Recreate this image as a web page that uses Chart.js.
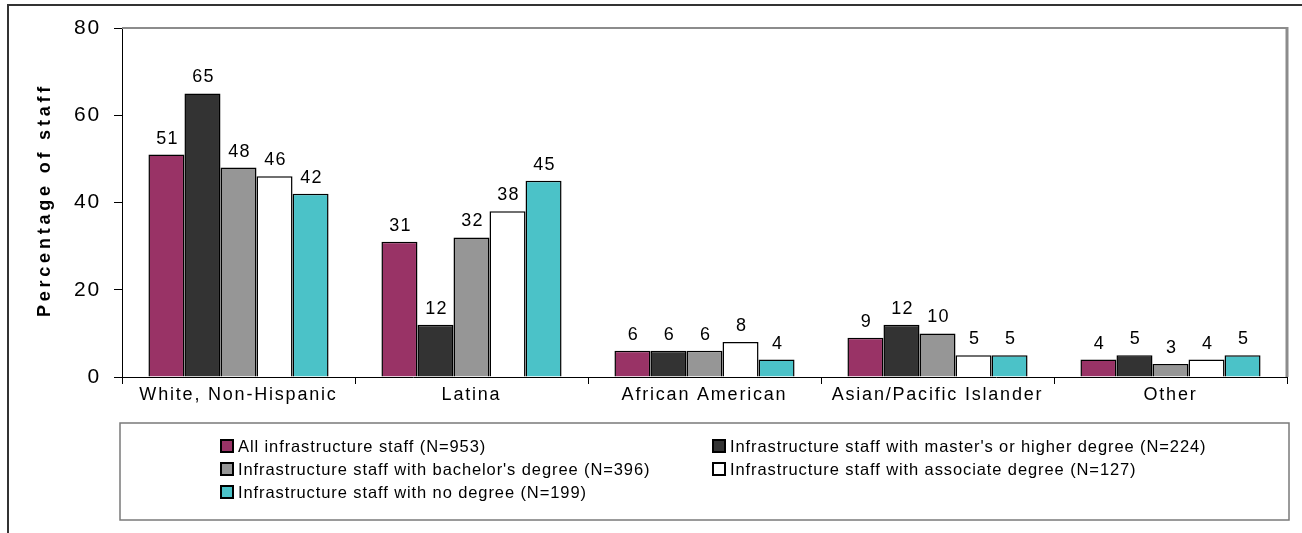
<!DOCTYPE html>
<html>
<head>
<meta charset="utf-8">
<script src="https://cdn.jsdelivr.net/npm/chart.js@4/dist/chart.umd.min.js"></script>
<style>
  html, body { margin: 0; padding: 0; background: #fff; }
  #wrap { width: 1302px; height: 533px; position: relative; }
</style>
</head>
<body>
<div id="wrap"><canvas id="staffChart"></canvas></div>
<script>
// カテゴリと系列データ
const categories = ['White, Non-Hispanic', 'Latina', 'African American', 'Asian/Pacific Islander', 'Other'];
const seriesLabels = [
  'All infrastructure staff (N=953)',
  "Infrastructure staff with master's or higher degree (N=224)",
  "Infrastructure staff with bachelor's degree (N=396)",
  'Infrastructure staff with associate degree (N=127)',
  'Infrastructure staff with no degree (N=199)'
];
const allStaff      = [51, 31, 6, 9, 4];
const mastersStaff  = [65, 12, 6, 12, 5];
const bachelorStaff = [48, 32, 6, 10, 3];
const associateStaff = [46, 38, 8, 5, 4];
const noDegreeStaff = [42, 45, 4, 5, 5];
const yTicks = [0, 20, 40, 60, 80];

const colors = ['#993366', '#333333', '#969696', '#ffffff', '#4bc2c8'];
const FONT = "'Liberation Sans', Arial, sans-serif";

// 外枠・プロット枠
const framePlugin = {
  id: 'frame',
  beforeDraw(chart) {
    const ctx = chart.ctx;
    ctx.letterSpacing = '1.8px';
    ctx.save();
    ctx.strokeStyle = '#333';
    ctx.lineWidth = 2;
    ctx.beginPath();
    ctx.moveTo(8, 533);
    ctx.lineTo(8, 5);
    ctx.lineTo(1302, 5);
    ctx.stroke();
    ctx.restore();
  },
  beforeDatasetsDraw(chart) {
    const { ctx, chartArea: a } = chart;
    ctx.save();
    ctx.strokeStyle = '#8c8c8c';
    ctx.lineWidth = 2;
    ctx.beginPath();
    ctx.moveTo(a.left, a.top);
    ctx.lineTo(a.right, a.top);
    ctx.stroke();
    ctx.lineWidth = 3;
    ctx.beginPath();
    ctx.moveTo(a.right, a.top - 1);
    ctx.lineTo(a.right, a.bottom);
    ctx.stroke();
    ctx.restore();
  }
};

// 棒の上の数値ラベル
const valueLabels = {
  id: 'valueLabels',
  afterDatasetsDraw(chart) {
    const ctx = chart.ctx;
    ctx.save();
    ctx.font = '18px ' + FONT;
    ctx.fillStyle = '#000';
    ctx.textAlign = 'center';
    ctx.textBaseline = 'alphabetic';
    ctx.letterSpacing = '1.2px';
    chart.data.datasets.forEach((ds, i) => {
      chart.getDatasetMeta(i).data.forEach((bar, j) => {
        ctx.fillText(String(ds.data[j]), bar.x + 1, bar.y - 11);
      });
    });
    ctx.restore();
  }
};

// 縦軸タイトルと凡例
const extras = {
  id: 'extras',
  afterDraw(chart) {
    const ctx = chart.ctx;
    ctx.save();
    ctx.translate(45, 202);
    ctx.rotate(-Math.PI / 2);
    ctx.font = 'bold 18px ' + FONT;
    ctx.letterSpacing = '3.8px';
    ctx.fillStyle = '#000';
    ctx.textAlign = 'center';
    ctx.textBaseline = 'middle';
    ctx.fillText('Percentage of staff', 2, 0);
    ctx.restore();

    // 凡例ボックス
    ctx.save();
    ctx.strokeStyle = '#7a7a7a';
    ctx.lineWidth = 1.5;
    ctx.strokeRect(120, 423, 1169, 97);
    const colX = [220, 712];
    const rowY = [446, 469, 492];
    ctx.font = '16.5px ' + FONT;
    ctx.letterSpacing = '0.9px';
    ctx.textBaseline = 'middle';
    ctx.textAlign = 'left';
    chart.data.datasets.forEach((ds, i) => {
      const x = colX[i % 2];
      const y = rowY[Math.floor(i / 2)];
      ctx.fillStyle = ds.backgroundColor;
      ctx.fillRect(x, y - 7, 14, 14);
      ctx.strokeStyle = '#000';
      ctx.lineWidth = 2;
      ctx.strokeRect(x + 1, y - 6, 12, 12);
      ctx.fillStyle = '#000';
      ctx.fillText(ds.label, x + 18, y + 1);
    });
    ctx.restore();
  }
};

const datasets = [allStaff, mastersStaff, bachelorStaff, associateStaff, noDegreeStaff].map((d, i) => ({
  label: seriesLabels[i],
  data: d,
  backgroundColor: colors[i],
  borderColor: '#000',
  borderWidth: 1.5,
  categoryPercentage: 0.773,
  barPercentage: 1.0
}));

new Chart(document.getElementById('staffChart'), {
  type: 'bar',
  data: { labels: categories, datasets: datasets },
  options: {
    responsive: true,
    maintainAspectRatio: false,
    animation: false,
    events: [],
    layout: { padding: { left: 0, top: 28, right: 15, bottom: 116 } },
    plugins: {
      legend: { display: false },
      tooltip: { enabled: false }
    },
    scales: {
      x: {
        offset: true,
        grid: { offset: true, drawOnChartArea: false, drawTicks: true, tickLength: 7, color: '#000', lineWidth: 1 },
        border: { display: true, color: '#000', width: 1 },
        ticks: { color: '#000', font: { family: FONT, size: 18 }, padding: 0, maxRotation: 0, autoSkip: false },
        afterFit(scale) { scale.height = 40; }
      },
      y: {
        min: 0,
        max: 80,
        afterBuildTicks(scale) { scale.ticks = yTicks.map(v => ({ value: v })); },
        grid: { drawOnChartArea: false, drawTicks: true, tickLength: 8, color: '#000', lineWidth: 1 },
        border: { display: true, color: '#000', width: 1 },
        ticks: { color: '#000', font: { family: FONT, size: 21 }, padding: 13 },
        afterFit(scale) { scale.width = 122; }
      }
    }
  },
  plugins: [framePlugin, valueLabels, extras]
});
</script>
</body>
</html>
